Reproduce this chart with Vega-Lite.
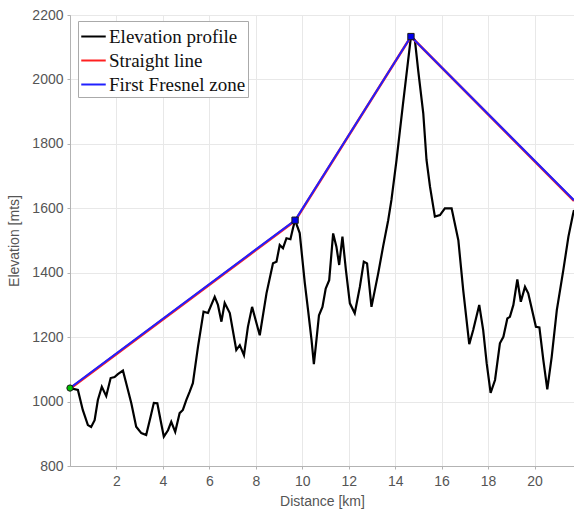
{
  "$schema": "https://vega.github.io/schema/vega-lite/v6.json",
  "width": 504,
  "height": 451,
  "autosize": {"type": "none"},
  "padding": {"left": 70, "top": 15, "right": 0, "bottom": 51},
  "background": "white",
  "config": {
    "view": {"stroke": "#b3b3b3", "strokeWidth": 1},
    "axis": {
      "labelFont": "Liberation Sans",
      "labelFontSize": 14,
      "labelColor": "#555555",
      "titleFont": "Liberation Sans",
      "titleFontSize": 14,
      "titleFontWeight": "normal",
      "titleColor": "#555555",
      "domainColor": "#b3b3b3",
      "tickColor": "#b3b3b3",
      "tickSize": 3,
      "gridColor": "#e8e8e8",
      "gridWidth": 1
    }
  },
  "datasets": {
    "profile": [
      {"km": 0.0, "elev": 1042}, {"km": 0.34, "elev": 1036}, {"km": 0.55, "elev": 974}, {"km": 0.77, "elev": 927},
      {"km": 0.91, "elev": 921}, {"km": 1.06, "elev": 942}, {"km": 1.20, "elev": 1005}, {"km": 1.37, "elev": 1046},
      {"km": 1.56, "elev": 1017}, {"km": 1.75, "elev": 1073}, {"km": 1.92, "elev": 1076}, {"km": 2.06, "elev": 1085},
      {"km": 2.28, "elev": 1096}, {"km": 2.42, "elev": 1057}, {"km": 2.64, "elev": 995}, {"km": 2.85, "elev": 922},
      {"km": 3.07, "elev": 902}, {"km": 3.28, "elev": 896}, {"km": 3.47, "elev": 953}, {"km": 3.61, "elev": 996},
      {"km": 3.76, "elev": 995}, {"km": 3.90, "elev": 942}, {"km": 4.04, "elev": 891}, {"km": 4.22, "elev": 911},
      {"km": 4.36, "elev": 937}, {"km": 4.53, "elev": 906}, {"km": 4.72, "elev": 964}, {"km": 4.86, "elev": 974},
      {"km": 5.01, "elev": 1005}, {"km": 5.15, "elev": 1030}, {"km": 5.29, "elev": 1057}, {"km": 5.51, "elev": 1170},
      {"km": 5.75, "elev": 1279}, {"km": 5.94, "elev": 1275}, {"km": 6.23, "elev": 1325}, {"km": 6.37, "elev": 1300},
      {"km": 6.52, "elev": 1248}, {"km": 6.66, "elev": 1306}, {"km": 6.88, "elev": 1275}, {"km": 7.16, "elev": 1160},
      {"km": 7.31, "elev": 1175}, {"km": 7.49, "elev": 1144}, {"km": 7.66, "elev": 1232}, {"km": 7.84, "elev": 1294},
      {"km": 8.03, "elev": 1243}, {"km": 8.17, "elev": 1206}, {"km": 8.46, "elev": 1336}, {"km": 8.74, "elev": 1429},
      {"km": 8.89, "elev": 1434}, {"km": 9.03, "elev": 1486}, {"km": 9.17, "elev": 1476}, {"km": 9.32, "elev": 1507},
      {"km": 9.49, "elev": 1504}, {"km": 9.60, "elev": 1538}, {"km": 9.69, "elev": 1563}, {"km": 9.89, "elev": 1523},
      {"km": 10.11, "elev": 1368}, {"km": 10.25, "elev": 1284}, {"km": 10.40, "elev": 1191}, {"km": 10.50, "elev": 1116},
      {"km": 10.61, "elev": 1191}, {"km": 10.72, "elev": 1268}, {"km": 10.87, "elev": 1294}, {"km": 11.01, "elev": 1351},
      {"km": 11.16, "elev": 1377}, {"km": 11.33, "elev": 1522}, {"km": 11.47, "elev": 1481}, {"km": 11.59, "elev": 1424},
      {"km": 11.73, "elev": 1512}, {"km": 11.88, "elev": 1408}, {"km": 12.05, "elev": 1305}, {"km": 12.26, "elev": 1274},
      {"km": 12.48, "elev": 1356}, {"km": 12.65, "elev": 1434}, {"km": 12.79, "elev": 1429}, {"km": 12.98, "elev": 1294},
      {"km": 13.27, "elev": 1398}, {"km": 13.48, "elev": 1481}, {"km": 13.70, "elev": 1563}, {"km": 13.84, "elev": 1626},
      {"km": 14.06, "elev": 1750}, {"km": 14.34, "elev": 1926}, {"km": 14.56, "elev": 2060}, {"km": 14.68, "elev": 2133},
      {"km": 14.85, "elev": 2122}, {"km": 14.99, "elev": 2029}, {"km": 15.21, "elev": 1895}, {"km": 15.35, "elev": 1750},
      {"km": 15.50, "elev": 1667}, {"km": 15.71, "elev": 1574}, {"km": 15.93, "elev": 1579}, {"km": 16.14, "elev": 1600},
      {"km": 16.43, "elev": 1600}, {"km": 16.72, "elev": 1501}, {"km": 16.93, "elev": 1346}, {"km": 17.19, "elev": 1178},
      {"km": 17.36, "elev": 1222}, {"km": 17.62, "elev": 1300}, {"km": 17.79, "elev": 1222}, {"km": 17.94, "elev": 1119},
      {"km": 18.11, "elev": 1027}, {"km": 18.30, "elev": 1067}, {"km": 18.51, "elev": 1181}, {"km": 18.66, "elev": 1201},
      {"km": 18.83, "elev": 1258}, {"km": 18.94, "elev": 1263}, {"km": 19.09, "elev": 1300}, {"km": 19.26, "elev": 1379},
      {"km": 19.41, "elev": 1310}, {"km": 19.59, "elev": 1356}, {"km": 19.73, "elev": 1336}, {"km": 19.88, "elev": 1289},
      {"km": 20.06, "elev": 1232}, {"km": 20.21, "elev": 1230}, {"km": 20.38, "elev": 1129}, {"km": 20.55, "elev": 1038},
      {"km": 20.74, "elev": 1139}, {"km": 20.96, "elev": 1284}, {"km": 21.24, "elev": 1408}, {"km": 21.46, "elev": 1512},
      {"km": 21.65, "elev": 1579}, {"km": 21.7, "elev": 1595}
    ],
    "links": [
      {"series": "Straight line", "km": 0.0, "elev": 1040, "o": 1},
      {"series": "Straight line", "km": 9.69, "elev": 1561, "o": 2},
      {"series": "Straight line", "km": 14.68, "elev": 2133, "o": 3},
      {"series": "Straight line", "km": 21.7, "elev": 1623, "o": 4},
      {"series": "First Fresnel zone", "km": 0.0, "elev": 1042, "o": 1},
      {"series": "First Fresnel zone", "km": 9.69, "elev": 1563, "o": 2},
      {"series": "First Fresnel zone", "km": 14.68, "elev": 2133, "o": 3},
      {"series": "First Fresnel zone", "km": 21.7, "elev": 1625, "o": 4}
    ],
    "nodes": [
      {"km": 0.0, "elev": 1042, "kind": "start"},
      {"km": 9.69, "elev": 1563, "kind": "relay"},
      {"km": 14.68, "elev": 2133, "kind": "relay"}
    ]
  },
  "layer": [
    {
      "data": {"name": "profile"},
      "transform": [{"calculate": "'Elevation profile'", "as": "series"}],
      "mark": {"type": "line", "strokeWidth": 2.2, "clip": true},
      "encoding": {
        "x": {"field": "km", "type": "quantitative", "scale": {"domain": [0, 21.7], "nice": false, "zero": false},
              "axis": {"values": [2, 4, 6, 8, 10, 12, 14, 16, 18, 20], "title": "Distance [km]", "labelPadding": 5, "titlePadding": 6}},
        "y": {"field": "elev", "type": "quantitative", "scale": {"domain": [800, 2200], "nice": false, "zero": false},
              "axis": {"values": [800, 1000, 1200, 1400, 1600, 1800, 2000, 2200], "format": "d", "title": "Elevation [mts]", "labelPadding": 4, "titlePadding": 10}},
        "color": {"field": "series", "type": "nominal",
                  "scale": {"domain": ["Elevation profile", "Straight line", "First Fresnel zone"], "range": ["#000000", "#ff2020", "#2020ff"]},
                  "legend": {
                    "orient": "none", "legendX": 8, "legendY": 6, "title": null,
                    "symbolType": "stroke", "symbolSize": 600, "symbolStrokeWidth": 2,
                    "labelFont": "Liberation Serif", "labelFontSize": 19, "labelColor": "#111111",
                    "fillColor": "white", "strokeColor": "#aaaaaa", "padding": 2, "rowPadding": 0, "labelOffset": 2
                  }},
        "order": {"field": "km", "type": "quantitative"}
      }
    },
    {
      "data": {"name": "links"},
      "mark": {"type": "line", "clip": true},
      "encoding": {
        "x": {"field": "km", "type": "quantitative"},
        "y": {"field": "elev", "type": "quantitative"},
        "color": {"field": "series", "type": "nominal"},
        "strokeWidth": {"field": "series", "type": "nominal", "scale": {"domain": ["Straight line", "First Fresnel zone"], "range": [2.6, 2]}, "legend": null},
        "order": {"field": "o", "type": "quantitative"}
      }
    },
    {
      "data": {"name": "nodes"},
      "mark": {"type": "point", "filled": true, "stroke": "#1a1a1a", "strokeWidth": 1, "opacity": 1},
      "encoding": {
        "x": {"field": "km", "type": "quantitative"},
        "y": {"field": "elev", "type": "quantitative"},
        "shape": {"field": "kind", "type": "nominal", "scale": {"domain": ["start", "relay"], "range": ["circle", "square"]}, "legend": null},
        "fill": {"field": "kind", "type": "nominal", "scale": {"domain": ["start", "relay"], "range": ["#00c000", "#0000ee"]}, "legend": null},
        "size": {"value": 40}
      }
    }
  ]
}
